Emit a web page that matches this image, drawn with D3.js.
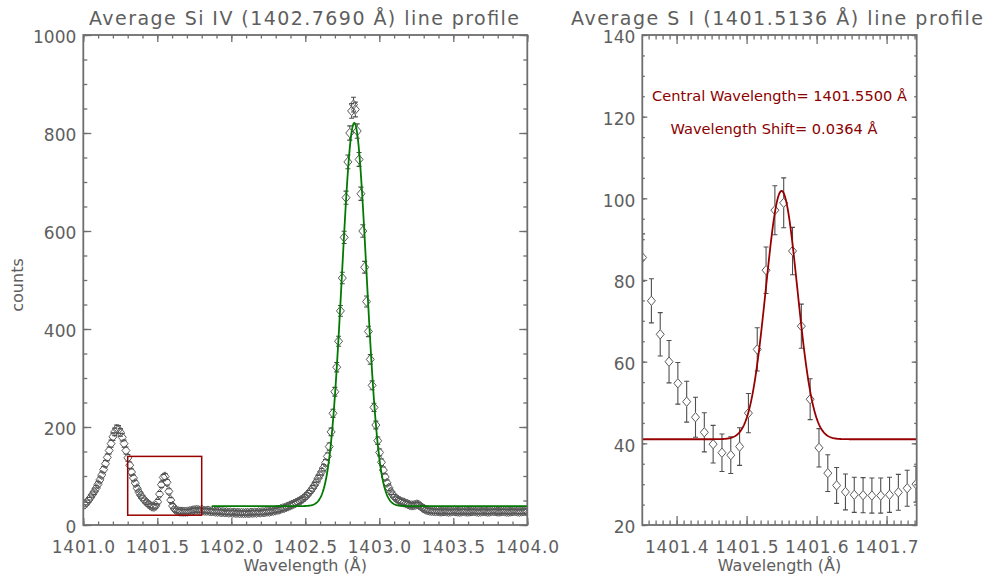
<!DOCTYPE html>
<html>
<head>
    <meta charset="utf-8">
    <script src="https://cdn.jsdelivr.net/npm/d3@7"></script>
    <style>
        body { margin: 0; background: #fff; }
        text { font-family: "DejaVu Sans", sans-serif; fill: #5e5e5e; }
    </style>
</head>

<body>
    <svg id="chart" width="990" height="576"></svg>

    <script>
        ///////////////////////////
        // data

        // wavelength grid of the spectrum (Å): first pixel and pixel size
        const waveStart = 1401.0112;
        const waveStep = 0.0126;

        // average counts per spectral pixel
        const counts = [
            42, 46, 51, 56, 62, 68, 75, 83, 92, 102, 113, 125, 138, 152, 166, 180, 190, 196, 195, 189,
            179, 166, 152, 137, 122, 108, 96,
            85.5, 74.9, 66.7, 60.0, 54.7, 50.2, 46.4, 42.7, 39.8, 37.7, 37.1, 39.2, 47.4, 63.0, 82.4, 97.1,
            98.9, 87.1, 68.7, 50.8, 38.9, 32.7, 29.7, 28.1, 27.4, 27.3, 27.2, 27.2, 27.4, 28.0, 29.0, 30.0,
            30.4, 30.9, 30.1, 29.6, 30.2, 29.1, 28.8, 29.3, 28.1, 27.9, 28.4, 27.2,
            26.9, 27.3, 26.2, 26.6, 25.8, 26.1, 25.4, 25.7, 24.9, 25.3, 24.6, 25.0, 24.3, 24.8, 24.1, 24.5,
            24.7, 24.2, 25.1, 24.8,
            25.4, 25.0, 25.9, 25.5, 26.3, 26.0, 26.8, 27.4, 27.1, 28.2, 28.9, 29.6, 30.8, 31.3, 32.7, 33.9,
            35.0, 36.6, 37.9, 39.8,
            41.5, 43.2, 45.0, 46.8, 48.9, 51.2, 54.0, 57.1, 60.8, 65.0, 69.6, 74.8, 80.7, 87.5, 95.2, 102,
            109, 117,
            127, 140, 160, 190, 228, 272, 322, 375, 437, 504, 587, 668, 741, 800, 845, 858, 848, 804, 746,
            676, 600, 526, 456,
            395, 338, 285, 240, 204, 172, 148, 128, 112, 98, 86, 76, 68, 62, 57, 54, 51, 49, 47, 46, 44, 43,
            41, 40, 40, 41, 42, 41, 38, 35, 33, 31, 30, 29,
            28.6, 28.2, 27.9, 28.4, 27.6, 27.3, 27.8, 28.1, 27.5, 27.0, 27.4, 27.9, 28.3, 27.7, 27.2, 26.9,
            27.5, 28.0, 27.6, 27.1, 27.4, 27.8, 28.2, 27.9, 27.3, 26.8, 27.2, 27.7, 28.1, 27.6, 27.0, 27.3,
            27.9, 28.4, 28.0, 27.5, 27.1, 27.6, 28.0, 27.7, 27.2, 26.9, 27.4, 27.8, 28.3, 27.9, 27.4, 27.0,
            27.5, 27.9, 28.2, 27.8
        ];

        // 1-sigma error of each pixel
        const errors = [
            4.7, 4.9, 5.0, 5.1, 5.2, 5.4, 5.5, 5.7, 5.9, 6.1, 6.3, 6.6, 6.8, 7.1, 7.3, 7.6, 7.7, 7.8, 7.8, 7.7,
            7.5, 7.3, 7.1, 6.8, 6.5, 6.2, 6.0,
            5.8, 5.4, 5.3, 5.2, 5.1, 5.0, 4.9, 4.8, 4.6, 4.6, 4.5, 4.6, 4.8, 5.3, 5.7, 6.0,
            6.1, 5.8, 5.4, 5.0, 4.7, 4.5, 4.4, 4.4, 4.3, 4.3, 4.3, 4.3, 4.3, 4.4, 4.4, 4.4,
            4.4, 4.5, 4.4, 4.4, 4.4, 4.4, 4.4, 4.4, 4.4, 4.4, 4.4, 4.3,
            4.3, 4.3, 4.3, 4.3, 4.2, 4.3, 4.2, 4.2, 4.2, 4.2, 4.2, 4.2, 4.2, 4.2, 4.2, 4.2,
            4.2, 4.2, 4.2, 4.2,
            4.2, 4.2, 4.2, 4.2, 4.3, 4.3, 4.3, 4.3, 4.3, 4.4, 4.4, 4.4, 4.4, 4.5, 4.5, 4.5,
            4.6, 4.6, 4.6, 4.7,
            4.7, 4.8, 4.8, 4.9, 4.9, 5.0, 5.0, 5.1, 5.2, 5.3, 5.4, 5.6, 5.7, 5.8, 6.0, 6.1,
            6.3, 6.4,
            6.6, 6.9, 7.2, 7.7, 8.3, 8.9, 9.6, 10.3, 11.0, 11.7, 12.6, 13.4, 14.0, 14.6, 15.0, 15.1, 15.0, 14.6, 14.1,
            13.5, 12.7, 12.0, 11.2,
            10.5, 9.8, 9.1, 8.5, 7.9, 7.5, 7.0, 6.6, 6.3, 6.1, 5.8, 5.6, 5.4, 5.2, 5.1, 5.0, 5.0, 4.9, 4.9, 4.8, 4.8, 4.8,
            4.7, 4.7, 4.7, 4.7, 4.7, 4.7, 4.7, 4.6, 4.5, 4.5, 4.4, 4.4,
            4.4, 4.4, 4.3, 4.4, 4.3, 4.3, 4.3, 4.4, 4.3, 4.3, 4.3, 4.3, 4.4, 4.3, 4.3, 4.3,
            4.3, 4.4, 4.3, 4.3, 4.3, 4.3, 4.4, 4.3, 4.3, 4.3, 4.3, 4.3, 4.4, 4.3, 4.3, 4.3,
            4.3, 4.4, 4.4, 4.3, 4.3, 4.3, 4.4, 4.3, 4.3, 4.3, 4.3, 4.3, 4.4, 4.3, 4.3, 4.3,
            4.3, 4.3, 4.4, 4.3
        ];

        // gaussian fits (parameters)
        const siFit = { center: 1402.831, amp: 782, sigma: 0.083, bg: 38.5, from: 1401.868, to: 1404.0 };
        const sFit = { center: 1401.550, amp: 60.8, sigma: 0.0225, bg: 41.0, from: 1401.30, to: 1401.80 };

        // zoom box shown on the left panel = range of the right panel
        const boxWave = [1401.30, 1401.80];
        const boxCounts = [20, 140];

        // axis ticks
        const leftXTicks = [1401.0, 1401.5, 1402.0, 1402.5, 1403.0, 1403.5, 1404.0];
        const leftYTicks = [0, 200, 400, 600, 800, 1000];
        const rightXTicks = [1401.4, 1401.5, 1401.6, 1401.7];
        const rightYTicks = [20, 40, 60, 80, 100, 120, 140];

        // texts
        const leftTitle = "Average Si IV (1402.7690 Å) line profile";
        const rightTitle = "Average S I (1401.5136 Å) line profile";
        const fitLines = ["Central Wavelength= 1401.5500 Å", "Wavelength Shift= 0.0364 Å"];

        ///////////////////////////
        // drawing

        const spectrum = counts.map((c, i) => ({ w: waveStart + i * waveStep, c: c, e: errors[i] }));
        const gauss = (f, w) => f.bg + f.amp * Math.exp(-0.5 * ((w - f.center) / f.sigma) ** 2);

        const svg = d3.select("#chart");
        const axisColor = "#6e6e6e";
        const pointColor = "#5a5a5a";

        const drawPanel = (cfg) => {
            const x = d3.scaleLinear().domain(cfg.xDomain).range([cfg.left, cfg.right]);
            const y = d3.scaleLinear().domain(cfg.yDomain).range([cfg.bottom, cfg.top]);
            const g = svg.append("g");

            g.append("clipPath").attr("id", cfg.id + "-clip")
                .append("rect")
                .attr("x", cfg.left).attr("y", cfg.top)
                .attr("width", cfg.right - cfg.left).attr("height", cfg.bottom - cfg.top);

            const plot = g.append("g").attr("clip-path", `url(#${cfg.id}-clip)`);

            // error bars, broken around the open diamond
            const hw = 4, hh = 4.7, cap = 2.5;
            const eb = plot.append("g").attr("stroke", "#4e4e4e").attr("stroke-width", 1.1).attr("fill", "none");
            spectrum.forEach(d => {
                const px = x(d.w), py = y(d.c), up = y(d.c + d.e), dn = y(d.c - d.e);
                const path = d3.path();
                if (py - up > hh) { path.moveTo(px, up); path.lineTo(px, py - hh); }
                if (dn - py > hh) { path.moveTo(px, py + hh); path.lineTo(px, dn); }
                path.moveTo(px - cap, up); path.lineTo(px + cap, up);
                path.moveTo(px - cap, dn); path.lineTo(px + cap, dn);
                eb.append("path").attr("d", path.toString());
            });

            // diamonds
            plot.append("g").selectAll("path").data(spectrum).join("path")
                .attr("d", d => {
                    const px = x(d.w), py = y(d.c);
                    return `M${px},${py - hh}L${px + hw},${py}L${px},${py + hh}L${px - hw},${py}Z`;
                })
                .attr("fill", "none").attr("stroke", pointColor).attr("stroke-width", 1);

            // fit curve
            const f = cfg.fit;
            const fitPts = d3.range(0, 601).map(i => {
                const w = f.from + (f.to - f.from) * i / 600;
                return [w, gauss(f, w)];
            });
            plot.append("path").datum(fitPts)
                .attr("d", d3.line().x(d => x(d[0])).y(d => y(d[1])))
                .attr("fill", "none").attr("stroke", cfg.fitColor).attr("stroke-width", 1.8);

            // axes: majors + minors, ticks pointing inward on all four sides
            const sides = [
                { axis: d3.axisBottom, scale: x, t: `translate(0,${cfg.bottom})`, major: cfg.xTicks, minor: x.ticks(cfg.xMinor), len: cfg.xLen, fmt: d3.format(".1f") },
                { axis: d3.axisTop, scale: x, t: `translate(0,${cfg.top})`, major: cfg.xTicks, minor: x.ticks(cfg.xMinor), len: cfg.xLen, fmt: null },
                { axis: d3.axisLeft, scale: y, t: `translate(${cfg.left},0)`, major: cfg.yTicks, minor: y.ticks(cfg.yMinor), len: cfg.yLen, fmt: d3.format("d") },
                { axis: d3.axisRight, scale: y, t: `translate(${cfg.right},0)`, major: cfg.yTicks, minor: y.ticks(cfg.yMinor), len: cfg.yLen, fmt: null }
            ];
            sides.forEach(s => {
                const isX = s.axis === d3.axisBottom;
                const minorAx = g.append("g").attr("transform", s.t)
                    .call(s.axis(s.scale).tickValues(s.minor).tickSize(-s.len / 2).tickSizeOuter(0).tickFormat(""));
                const majorAx = g.append("g").attr("transform", s.t)
                    .call(s.axis(s.scale).tickValues(s.major).tickSize(-s.len).tickSizeOuter(0)
                        .tickPadding(isX ? 16 : 7)
                        .tickFormat(s.fmt ? s.fmt : ""));
                [minorAx, majorAx].forEach(a => {
                    a.select(".domain").remove();
                    a.selectAll("line").attr("stroke", axisColor).attr("stroke-width", 1.3);
                    a.selectAll("text").attr("font-size", 17).attr("font-family", null).attr("fill", "#5e5e5e")
                        .attr("letter-spacing", isX ? 0.8 : 0)
                        .attr("dy", isX ? "0.71em" : "0.46em");
                });
            });

            g.append("rect")
                .attr("x", cfg.left).attr("y", cfg.top)
                .attr("width", cfg.right - cfg.left).attr("height", cfg.bottom - cfg.top)
                .attr("fill", "none").attr("stroke", axisColor).attr("stroke-width", 1.8);

            const mid = (cfg.left + cfg.right) / 2;
            g.append("text").attr("x", cfg.titleX || mid).attr("y", 25)
                .attr("text-anchor", "middle").attr("font-size", 19)
                .attr("textLength", cfg.titleWidth).attr("lengthAdjust", "spacing")
                .text(cfg.title);
            g.append("text").attr("x", mid).attr("y", 571)
                .attr("text-anchor", "middle").attr("font-size", 16).text("Wavelength (Å)");

            return { x, y, g };
        };

        const left = drawPanel({
            id: "left", left: 83.3, right: 527.3, top: 35, bottom: 525,
            xDomain: [1401.0, 1404.0], yDomain: [0, 1000],
            xTicks: leftXTicks, yTicks: leftYTicks, xMinor: 30, yMinor: 20,
            xLen: 7, yLen: 8,
            fit: siFit, fitColor: "#007a00",
            title: leftTitle, titleX: 304, titleWidth: 430
        });

        // zoom box
        left.g.append("rect")
            .attr("x", left.x(boxWave[0])).attr("y", left.y(boxCounts[1]))
            .attr("width", left.x(boxWave[1]) - left.x(boxWave[0]))
            .attr("height", left.y(boxCounts[0]) - left.y(boxCounts[1]))
            .attr("fill", "none").attr("stroke", "#9a0000").attr("stroke-width", 1.5);

        left.g.append("text")
            .attr("transform", "translate(23,285) rotate(-90)")
            .attr("text-anchor", "middle").attr("font-size", 16).text("counts");

        const right = drawPanel({
            id: "right", left: 642.3, right: 916.7, top: 35, bottom: 525,
            xDomain: [1401.351, 1401.743], yDomain: [20, 140],
            xTicks: rightXTicks, yTicks: rightYTicks, xMinor: 40, yMinor: 24,
            xLen: 9, yLen: 5,
            fit: sFit, fitColor: "#970000",
            title: rightTitle, titleX: 777, titleWidth: 412
        });

        right.g.selectAll("text.fitinfo").data(fitLines).join("text")
            .attr("class", "fitinfo")
            .attr("x", (d, i) => i === 0 ? 779.5 : 774)
            .attr("y", (d, i) => i === 0 ? 101 : 134)
            .attr("text-anchor", "middle").attr("font-size", 14.6)
            .style("fill", "#8b0000")
            .text(d => d);
    </script>
</body>
</html>
